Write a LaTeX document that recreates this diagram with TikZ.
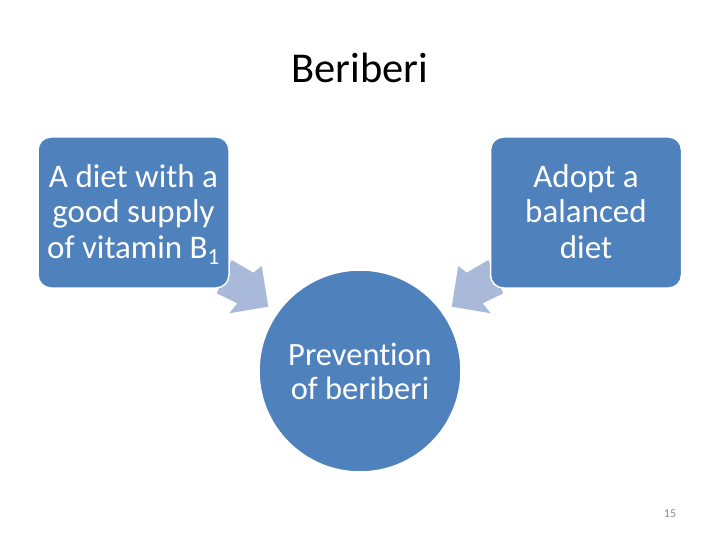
\documentclass[tikz,border=0pt]{standalone}
\usepackage{fontspec}
\setmainfont{Carlito}[Ligatures=NoCommon]
\definecolor{boxblue}{HTML}{4F81BD}
\definecolor{arrowblue}{HTML}{A8B9D9}
\definecolor{pagegray}{HTML}{898989}
\tikzset{
  stepbox/.style={rectangle, rounded corners=13pt, fill=boxblue, draw=white, line width=1.5pt,
    minimum width=191pt, minimum height=151pt, text=white, align=center, inner sep=1pt,
    font=\fontsize{33}{35.5}\selectfont},
  goalcircle/.style={circle, fill=boxblue, draw=white, line width=1.5pt, minimum size=202pt,
    text=white, align=center, inner sep=1pt, font=\fontsize{32.5}{34}\selectfont},
  blockarrow/.style={fill=arrowblue}
}
\newcommand{\lowertext}[1]{\raisebox{-3pt}[\height][\depth]{\begin{tabular}{@{}c@{}}#1\end{tabular}}}
\begin{document}
\begin{tikzpicture}[x=1pt,y=-1pt]
\useasboundingbox (0,0) rectangle (720,540);
% arrows (drawn first, boxes cover their tails)
\coordinate (la1) at (231.7,260);
\coordinate (la2) at (253.3,272.7);
\coordinate (la3) at (261.7,266);
\coordinate (la4) at (268.3,306.7);
\coordinate (la5) at (229.3,313.3);
\coordinate (la6) at (237.3,303.3);
\coordinate (la7) at (216.7,293.3);
\fill[blockarrow] (la1) -- (la2) -- (la3) -- (la4) -- (la5) -- (la6) -- (la7) -- cycle;
\coordinate (ra1) at (488.3,260);
\coordinate (ra2) at (466.7,272.7);
\coordinate (ra3) at (458.3,266);
\coordinate (ra4) at (451.7,306.7);
\coordinate (ra5) at (490.7,313.3);
\coordinate (ra6) at (482.7,303.3);
\coordinate (ra7) at (503.3,293.3);
\fill[blockarrow] (ra1) -- (ra2) -- (ra3) -- (ra4) -- (ra5) -- (ra6) -- (ra7) -- cycle;
% title
\node[font=\fontsize{42.5}{50}\selectfont] (title) at (360,68) {Beriberi};
% boxes
\node[stepbox] (left) at (133.5,212.5) {\lowertext{A diet with a\\good supply\\of vitamin B\textsubscript{1}}};
\node[stepbox] (right) at (586,212.5) {\lowertext{Adopt a\\balanced\\diet}};
\node[goalcircle] (goal) at (360,371) {Prevention\\of beriberi};
% page number
\node[font=\fontsize{12}{14}\selectfont, text=pagegray] (page) at (670,514) {15};
\end{tikzpicture}
\end{document}
